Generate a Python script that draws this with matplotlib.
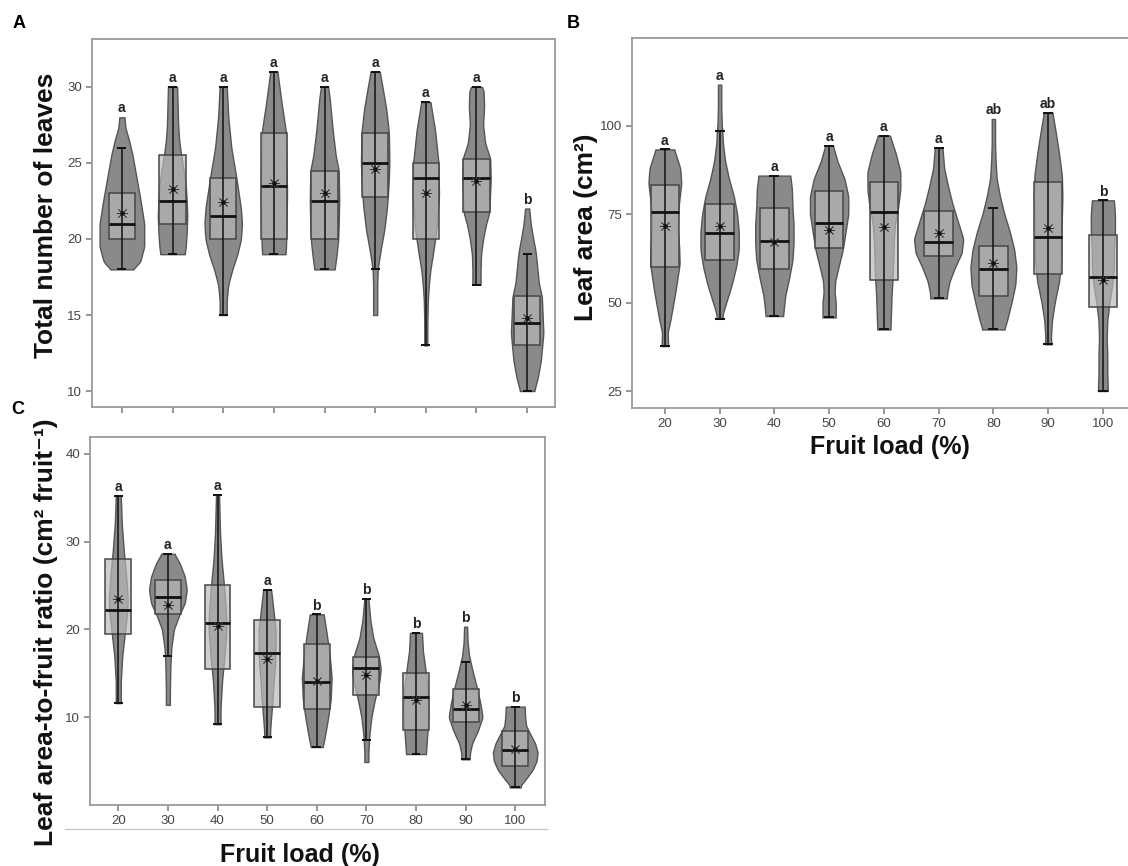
import numpy as np
import matplotlib
matplotlib.use('Agg')
import matplotlib.pyplot as plt
from matplotlib.patches import Rectangle
from matplotlib.lines import Line2D

plt.rcParams['font.family'] = ['Liberation Sans', 'DejaVu Sans']

loads = ['20', '30', '40', '50', '60', '70', '80', '90', '100']

# ---------------- Panel A: total number of leaves ----------------
a_q1 = [20, 21, 20, 20, 20, 22.75, 20, 21.75, 13]
a_med = [21, 22.5, 21.5, 23.5, 22.5, 25, 24, 24, 14.5]
a_q3 = [23, 25.5, 24, 27, 24.5, 27, 25, 25.25, 16.25]
a_wlo = [18, 19, 15, 19, 18, 18, 13, 17, 10]
a_whi = [26, 30, 30, 31, 30, 31, 29, 30, 19]
a_mean = [21.7, 23.3, 22.4, 23.7, 23.0, 24.6, 23.0, 23.8, 14.8]
a_letters = ['a', 'a', 'a', 'a', 'a', 'a', 'a', 'a', 'b']
a_prof_y = [
    [18, 18.5, 19.5, 21, 22.5, 24, 25.5, 26.5, 27.3, 28],
    [19, 19.5, 20.5, 21.5, 22.5, 23.5, 24.5, 25.5, 26.5, 27.5, 30],
    [15, 16, 17, 18, 19, 20, 21, 22, 24, 26, 28, 30],
    [19, 19.5, 21, 23, 25, 27, 29, 31],
    [18, 19, 20, 21, 22.5, 24.5, 25.5, 27.2, 29.3, 30],
    [15, 16, 17, 18, 18.5, 19.5, 20.6, 22, 22.8, 24, 25, 27, 28.5, 29.5, 31],
    [13, 14.5, 16, 17, 18, 19, 20.6, 22.8, 25, 27.2, 29],
    [17, 18, 19, 20, 21, 21.7, 23.9, 25.3, 26.3, 27.5, 28.7, 29.8, 30],
    [10, 10.9, 12, 13.8, 16.2, 17.1, 18.8, 19.3, 20, 21, 22],
]
a_prof_w = [
    [0.22, 0.36, 0.44, 0.44, 0.37, 0.29, 0.21, 0.14, 0.07, 0.05],
    [0.24, 0.26, 0.28, 0.29, 0.28, 0.26, 0.22, 0.17, 0.13, 0.11, 0.09],
    [0.07, 0.07, 0.1, 0.18, 0.28, 0.35, 0.37, 0.35, 0.26, 0.16, 0.1, 0.07],
    [0.23, 0.24, 0.25, 0.26, 0.25, 0.24, 0.15, 0.07],
    [0.2, 0.24, 0.27, 0.28, 0.29, 0.28, 0.22, 0.16, 0.1, 0.07],
    [0.04, 0.04, 0.04, 0.05, 0.07, 0.12, 0.18, 0.23, 0.25, 0.27, 0.28, 0.27, 0.22, 0.17, 0.09],
    [0.03, 0.03, 0.04, 0.06, 0.09, 0.14, 0.21, 0.26, 0.25, 0.18, 0.09],
    [0.08, 0.08, 0.09, 0.13, 0.19, 0.25, 0.28, 0.27, 0.17, 0.13, 0.15, 0.14, 0.1],
    [0.14, 0.21, 0.27, 0.32, 0.29, 0.23, 0.18, 0.16, 0.12, 0.07, 0.04],
]

# ---------------- Panel B: leaf area ----------------
b_q1 = [60.1, 62.0, 59.4, 65.4, 56.3, 63.3, 51.8, 58.0, 48.7]
b_med = [75.7, 69.7, 67.4, 72.5, 75.5, 67.2, 59.5, 68.6, 57.3]
b_q3 = [83.3, 78.0, 76.8, 81.5, 84.0, 75.8, 66.1, 84.0, 69.2]
b_wlo = [37.7, 45.4, 46.2, 45.8, 42.4, 51.2, 42.4, 38.2, 25.0]
b_whi = [93.3, 98.4, 85.9, 94.4, 97.2, 93.7, 76.8, 103.6, 78.9]
b_mean = [71.6, 71.6, 67.0, 70.5, 71.3, 69.7, 61.2, 71.0, 56.3]
b_letters = ['a', 'a', 'a', 'a', 'a', 'a', 'ab', 'ab', 'b']
b_prof_y = [
    [37.7, 41.5, 45, 52.8, 61, 66, 71.6, 77, 83.8, 88, 93.3],
    [45.4, 47, 50, 55, 60, 65, 70, 75, 80, 85, 90, 95, 98.4, 100, 105, 111.6],
    [46.2, 48, 52, 57, 62, 67, 72, 77, 82, 85.9],
    [45.8, 50, 53, 56, 60, 65, 70, 75, 80, 85, 90, 94.4],
    [42.4, 47, 52, 57, 62, 67, 72, 77, 82, 87, 92, 97.2],
    [51.2, 53, 56, 60, 64, 68, 73, 78, 83, 88, 93.7],
    [42.4, 45, 50, 55, 60, 65, 70, 75, 80, 85, 90, 95, 101.9],
    [38.2, 40, 45, 50, 56, 62, 68, 74, 80, 86, 92, 98, 103.6],
    [25, 30, 35, 40, 45, 50, 55, 60, 65, 70, 75, 78.9],
]
b_prof_w = [
    [0.06, 0.05, 0.1, 0.19, 0.27, 0.26, 0.23, 0.25, 0.3, 0.28, 0.17],
    [0.05, 0.06, 0.12, 0.22, 0.3, 0.35, 0.35, 0.32, 0.26, 0.17, 0.1, 0.06, 0.05, 0.04, 0.03, 0.03],
    [0.16, 0.17, 0.2, 0.27, 0.33, 0.35, 0.35, 0.33, 0.32, 0.29],
    [0.12, 0.12, 0.1, 0.11, 0.17, 0.25, 0.3, 0.35, 0.35, 0.28, 0.15, 0.07],
    [0.12, 0.13, 0.14, 0.16, 0.17, 0.18, 0.2, 0.26, 0.3, 0.3, 0.22, 0.11],
    [0.15, 0.16, 0.2, 0.3, 0.42, 0.45, 0.35, 0.25, 0.17, 0.1, 0.07],
    [0.2, 0.25, 0.33, 0.4, 0.42, 0.38, 0.3, 0.2, 0.12, 0.06, 0.04, 0.03, 0.03],
    [0.06, 0.05, 0.07, 0.12, 0.2, 0.24, 0.24, 0.25, 0.26, 0.25, 0.2, 0.14, 0.08],
    [0.09, 0.08, 0.08, 0.07, 0.08, 0.12, 0.17, 0.2, 0.2, 0.22, 0.22, 0.2],
]

# ---------------- Panel C: leaf area-to-fruit ratio ----------------
c_q1 = [19.5, 21.7, 15.5, 11.2, 10.9, 12.5, 8.5, 9.5, 4.4]
c_med = [22.2, 23.7, 20.7, 17.3, 14.0, 15.6, 12.3, 10.9, 6.3]
c_q3 = [28.0, 25.6, 25.0, 21.1, 18.3, 16.8, 15.0, 13.2, 8.4]
c_wlo = [11.6, 17.0, 9.2, 7.7, 6.6, 7.4, 5.8, 5.2, 2.0]
c_whi = [35.2, 28.6, 35.3, 24.5, 21.7, 23.5, 19.6, 16.3, 11.2]
c_mean = [23.5, 22.8, 20.4, 16.6, 14.1, 14.8, 11.9, 11.4, 6.4]
c_letters = ['a', 'a', 'a', 'a', 'b', 'b', 'b', 'b', 'b']
c_prof_y = [
    [11.6, 14, 17, 20, 22, 23.5, 26, 29, 32, 35.2],
    [11.4, 13, 16, 18, 20, 21.5, 23, 24.5, 26, 27.5, 28.6],
    [9.2, 11, 14, 17, 20, 22, 25, 28, 31, 35.3],
    [7.7, 8.5, 10, 12, 14, 16, 18, 20, 22, 24.5],
    [6.6, 8, 10, 12, 14.5, 17, 19.5, 21.7],
    [4.9, 6, 8, 10, 12, 14, 15.5, 17, 19, 21, 23.5],
    [5.8, 7.5, 9, 11, 13, 15, 17.5, 19.6],
    [5.2, 6, 7, 8.5, 10, 11.5, 13.5, 15.5, 17, 18.5, 20.3],
    [2, 2.3, 3, 4, 5, 6, 7, 8, 9, 10, 11.2],
]
c_prof_w = [
    [0.05, 0.05, 0.08, 0.14, 0.18, 0.19, 0.16, 0.11, 0.07, 0.05],
    [0.04, 0.04, 0.05, 0.07, 0.12, 0.22, 0.34, 0.38, 0.34, 0.24, 0.13],
    [0.06, 0.06, 0.09, 0.14, 0.18, 0.17, 0.13, 0.08, 0.05, 0.03],
    [0.06, 0.06, 0.08, 0.11, 0.13, 0.16, 0.17, 0.17, 0.13, 0.08],
    [0.12, 0.17, 0.23, 0.28, 0.3, 0.26, 0.2, 0.14],
    [0.04, 0.04, 0.06, 0.1, 0.17, 0.26, 0.29, 0.25, 0.14, 0.08, 0.04],
    [0.2, 0.22, 0.24, 0.25, 0.24, 0.2, 0.14, 0.12],
    [0.08, 0.09, 0.13, 0.25, 0.34, 0.3, 0.22, 0.13, 0.07, 0.04, 0.03],
    [0.11, 0.12, 0.22, 0.35, 0.43, 0.45, 0.4, 0.31, 0.22, 0.2, 0.19],
]

# ---------------- styling ----------------
VIOLIN = '#8a8a8a'
VEDGE = '#555555'
BOXFACE = (0.72, 0.72, 0.72, 0.69)
BOXEDGE = '#474747'
SPINE = '#9a9a9a'
BOXW = 0.26
CAPW = 0.09

W, H = 1128, 866
fig = plt.figure(figsize=(W / 100, H / 100), dpi=100)


def frame(px_left, px_top, px_right, px_bottom):
    return [px_left / W, 1 - px_bottom / H, (px_right - px_left) / W, (px_bottom - px_top) / H]


def draw_panel(ax, prof_y, prof_w, q1, med, q3, wlo, whi, mean, letters):
    for i in range(len(loads)):
        y = np.asarray(prof_y[i], float)
        w = np.asarray(prof_w[i], float)
        yy = np.linspace(y[0], y[-1], 240)
        ww = np.interp(yy, y, w)
        k = np.ones(7) / 7
        ww = np.convolve(np.pad(ww, 3, mode='edge'), k, mode='valid')
        ax.fill_betweenx(yy, i - ww, i + ww, facecolor=VIOLIN, edgecolor=VEDGE,
                         lw=1.0, zorder=2)
        ax.add_patch(Rectangle((i - BOXW, q1[i]), 2 * BOXW, q3[i] - q1[i],
                               facecolor=BOXFACE, edgecolor=BOXEDGE, lw=1.1, zorder=3))
        ax.vlines(i, wlo[i], whi[i], color='#111111', lw=1.1, zorder=4)
        ax.hlines([wlo[i], whi[i]], i - CAPW, i + CAPW, color='#111111', lw=1.4, zorder=4)
        ax.hlines(med[i], i - BOXW, i + BOXW, color='#111111', lw=2.0, zorder=5)
        ax.plot(i, mean[i], marker=(8, 2, 0), ms=8, color='#3a3a3a', mew=0.6, zorder=6)
        ax.plot(i, mean[i], marker='o', ms=2.2, color='#111111', zorder=7)
        ax.annotate(letters[i], (i, y[-1]), xytext=(0, 3.5), textcoords='offset points',
                    ha='center', va='baseline', fontsize=10, fontweight='bold',
                    color='#222222')
    ax.set_xticks(range(len(loads)))
    for s in ax.spines.values():
        s.set_color(SPINE)
        s.set_linewidth(1.3)
    ax.tick_params(direction='out', length=4.5, width=1.1, color='#7a7a7a',
                   labelcolor='#444444', labelsize=9.5, pad=2.5)


# Panel A
axA = fig.add_axes(frame(92, 39, 555, 407))
draw_panel(axA, a_prof_y, a_prof_w, a_q1, a_med, a_q3, a_wlo, a_whi, a_mean, a_letters)
axA.set_xlim(-0.59, 8.55)
axA.set_ylim(8.95, 33.15)
axA.set_yticks([10, 15, 20, 25, 30])
axA.set_xticklabels([])

# Panel B
axB = fig.add_axes(frame(632, 38, 1133, 408))
draw_panel(axB, b_prof_y, b_prof_w, b_q1, b_med, b_q3, b_wlo, b_whi, b_mean, b_letters)
axB.set_xlim(-0.6, 8.55)
axB.set_ylim(20.2, 124.8)
axB.set_yticks([25, 50, 75, 100])
axB.set_xticklabels(loads)

# Panel C
axC = fig.add_axes(frame(90, 437, 545, 805))
draw_panel(axC, c_prof_y, c_prof_w, c_q1, c_med, c_q3, c_wlo, c_whi, c_mean, c_letters)
axC.set_xlim(-0.57, 8.6)
axC.set_ylim(0, 41.9)
axC.set_yticks([10, 20, 30, 40])
axC.set_xticklabels(loads)

# axis titles
lab = dict(fontweight='bold', fontsize=19, color='#111111', ha='center', va='center')
fig.text(46 / W, 1 - 215 / H, 'Total number of leaves', rotation=90, **lab)
fig.text(586 / W, 1 - 227 / H, 'Leaf area (cm²)', rotation=90, **lab)
fig.text(46 / W, 1 - 632 / H, 'Leaf area-to-fruit ratio (cm² fruit⁻¹)', rotation=90, **lab)
fig.text(890 / W, 1 - 447 / H, 'Fruit load (%)', **dict(lab, fontsize=18))
fig.text(300 / W, 1 - 855 / H, 'Fruit load (%)', **dict(lab, fontsize=18))

# panel letters
pl = dict(fontweight='bold', fontsize=13, color='#000000', ha='center', va='center')
fig.text(19 / W, 1 - 24 / H, 'A', **pl)
fig.text(573 / W, 1 - 23 / H, 'B', **pl)
fig.text(18 / W, 1 - 410 / H, 'C', **pl)

# thin separator line under panel C
fig.add_artist(Line2D([65 / W, 547 / W], [1 - 829 / H, 1 - 829 / H],
                      transform=fig.transFigure, color='#c8c8c8', lw=1.0))

fig.savefig('out.png', dpi=100)
